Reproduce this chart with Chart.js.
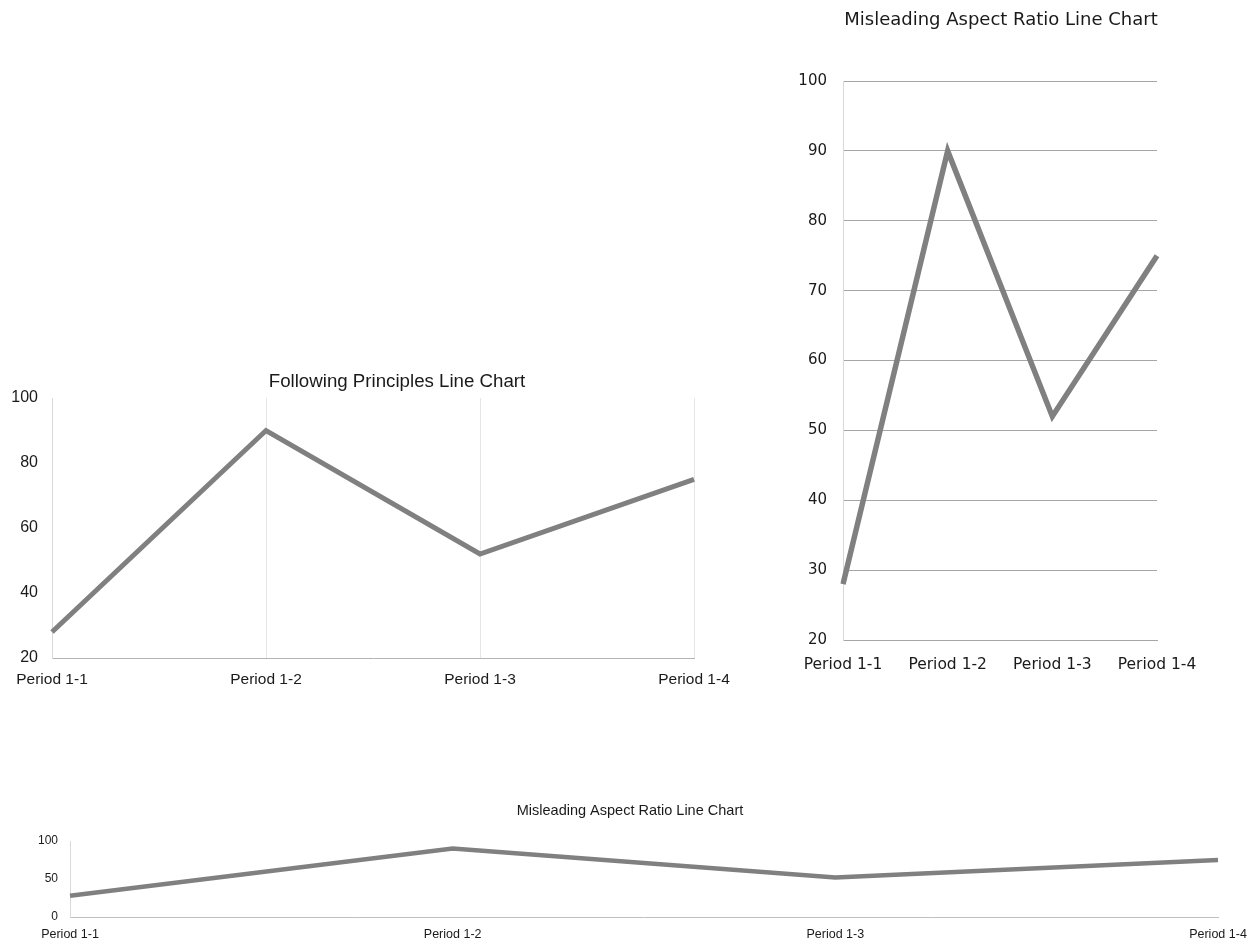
<!DOCTYPE html>
<html>
<head>
<meta charset="utf-8">
<script src="https://cdn.jsdelivr.net/npm/chart.js@4.4.1/dist/chart.umd.min.js"></script>
<style>
  html, body { margin: 0; padding: 0; background: #fff; }
  body { width: 1255px; height: 942px; position: relative; overflow: hidden; }
  canvas { position: absolute; }
</style>
</head>
<body>
<canvas id="principles" width="800" height="340" style="left:0;top:360px"></canvas>
<canvas id="tall" width="475" height="700" style="left:780px;top:0"></canvas>
<canvas id="wide" width="1260" height="152" style="left:0;top:790px"></canvas>
<script>
// same four periods and values in all three charts
const periods = ["Period 1-1", "Period 1-2", "Period 1-3", "Period 1-4"];
const values = [28, 90, 52, 75];

// y axis ranges for each chart: min, max, step
const principlesRange = [20, 100, 20];
const tallRange = [20, 100, 10];
const wideRange = [0, 100, 50];

const lineGrey = '#808080';

function lineData(width) {
  return {
    labels: periods,
    datasets: [{
      data: values,
      borderColor: lineGrey,
      borderWidth: width,
      pointRadius: 0,
      tension: 0,
      fill: false
    }]
  };
}

function baseOpts(cfg) {
  return {
    responsive: false,
    animation: false,
    devicePixelRatio: 1,
    layout: { padding: { left: 0, right: cfg.padRight, top: 0, bottom: 0 } },
    plugins: {
      legend: { display: false },
      tooltip: { enabled: false },
      title: {
        display: true,
        text: cfg.title,
        color: '#1a1a1a',
        font: { family: cfg.family, size: cfg.titleSize, weight: 'normal' },
        padding: { top: cfg.titleTop, bottom: cfg.titleBottom }
      }
    },
    scales: {
      x: {
        offset: false,
        grid: { display: cfg.xGrid, color: '#e6e6e6', drawTicks: false },
        border: { display: true, color: cfg.xBorder, width: 1 },
        ticks: {
          color: '#1a1a1a', maxRotation: 0, autoSkip: false,
          padding: cfg.xPad,
          font: { family: cfg.family, size: cfg.xSize }
        },
        afterFit: function(s) { s.height = cfg.xHeight; }
      },
      y: {
        min: cfg.range[0], max: cfg.range[1],
        grid: { display: cfg.yGrid, color: '#a6a6a6', drawTicks: false },
        border: { display: true, color: '#d9d9d9', width: 1 },
        ticks: {
          stepSize: cfg.range[2], color: '#1a1a1a',
          padding: cfg.yPad,
          font: { family: cfg.family, size: cfg.ySize }
        },
        afterFit: function(s) { s.width = cfg.yWidth; }
      },
      // empty right-hand gutter so the title sits over the whole chart box
      gutter: {
        type: 'linear',
        position: 'right',
        display: cfg.gutter > 0,
        grid: { display: false },
        border: { display: false },
        ticks: { display: false },
        afterFit: function(s) { s.width = cfg.gutter; }
      }
    }
  };
}

new Chart(document.getElementById('principles'), {
  type: 'line',
  data: lineData(5),
  options: baseOpts({
    title: 'Following Principles Line Chart',
    family: '"Liberation Sans", Arial, sans-serif',
    titleSize: 18.7, titleTop: 10.5, titleBottom: 5.1,
    padRight: 6, gutter: 100, yWidth: 52, xHeight: 42,
    xPad: 12, yPad: 14, xSize: 15.5, ySize: 16,
    xGrid: true, yGrid: false, xBorder: '#b3b3b3',
    range: principlesRange
  })
});

new Chart(document.getElementById('tall'), {
  type: 'line',
  data: lineData(5.5),
  options: baseOpts({
    title: 'Misleading Aspect Ratio Line Chart',
    family: '"DejaVu Sans", Verdana, sans-serif',
    titleSize: 18, titleTop: 10, titleBottom: 49.4,
    padRight: 33, gutter: 65, yWidth: 63, xHeight: 60,
    xPad: 16, yPad: 16, xSize: 15.5, ySize: 15,
    xGrid: false, yGrid: true, xBorder: '#a6a6a6',
    range: tallRange
  })
});

new Chart(document.getElementById('wide'), {
  type: 'line',
  data: lineData(4.5),
  options: baseOpts({
    title: 'Misleading Aspect Ratio Line Chart',
    family: '"Liberation Sans", Arial, sans-serif',
    titleSize: 14.5, titleTop: 12, titleBottom: 21.6,
    padRight: 0, gutter: 42, yWidth: 70, xHeight: 25,
    xPad: 10, yPad: 12, xSize: 12.5, ySize: 12,
    xGrid: false, yGrid: false, xBorder: '#bfbfbf',
    range: wideRange
  })
});
</script>
</body>
</html>
